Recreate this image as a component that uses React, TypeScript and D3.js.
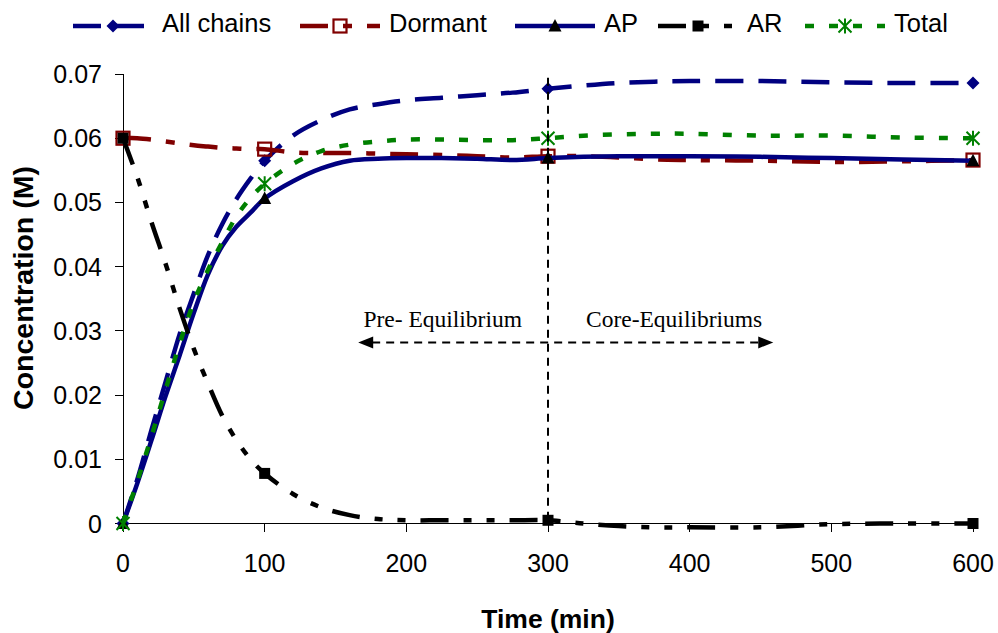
import React from "react";
import * as d3 from "d3";

// Sampling times (min) shared by every series
const timeMin = [0, 10, 20, 30, 40, 50, 60, 70, 80, 90, 100, 120, 140, 160, 180, 200, 225, 250, 275, 300, 325, 350, 375, 400, 450, 500, 550, 600];

// Concentrations (M)
const allChains = [0, 0.0068, 0.0145, 0.022, 0.0295, 0.0358, 0.0418, 0.0466, 0.0505, 0.0537, 0.0565, 0.0604, 0.0628, 0.0645, 0.0653, 0.0659, 0.0663, 0.0667, 0.0671, 0.0677, 0.0682, 0.0686, 0.0688, 0.0689, 0.0689, 0.0687, 0.0686, 0.0686];
const dormant = [0.06, 0.06, 0.0598, 0.0595, 0.0592, 0.0589, 0.0587, 0.0585, 0.0584, 0.0583, 0.0583, 0.0578, 0.0577, 0.0577, 0.0576, 0.0575, 0.0574, 0.0572, 0.057, 0.0572, 0.0572, 0.057, 0.0567, 0.0566, 0.0565, 0.0563, 0.0564, 0.0566];
const ap = [0, 0.0062, 0.0129, 0.0198, 0.0262, 0.0328, 0.0388, 0.0432, 0.0462, 0.0484, 0.0506, 0.0533, 0.0553, 0.0565, 0.0568, 0.0569, 0.0569, 0.0568, 0.0566, 0.0569, 0.0571, 0.0572, 0.0572, 0.0572, 0.0571, 0.0569, 0.0567, 0.0565];
const ar = [0.06, 0.054, 0.047, 0.0405, 0.0335, 0.0272, 0.0218, 0.0168, 0.013, 0.01, 0.0078, 0.0046, 0.0025, 0.0013, 0.0007, 0.0005, 0.0005, 0.0005, 0.0005, 0.0005, 0.0, -0.0004, -0.0006, -0.0006, -0.0006, -0.0001, 0.0, 0.0];
const total = [0, 0.0065, 0.0135, 0.0208, 0.028, 0.0345, 0.0395, 0.0438, 0.0478, 0.0507, 0.0529, 0.056, 0.058, 0.059, 0.0595, 0.0598, 0.0598, 0.0597, 0.0597, 0.06, 0.0604, 0.0606, 0.0607, 0.0607, 0.0604, 0.0604, 0.0601, 0.06];

// Times at which the series carry markers
const markerTimes = [0, 100, 300, 600];

const seriesNames = ["All chains", "Dormant", "AP", "AR", "Total"];
const seriesValues = [allChains, dormant, ap, ar, total];

const xTicks = [0, 100, 200, 300, 400, 500, 600];
const yTicks = [0, 0.01, 0.02, 0.03, 0.04, 0.05, 0.06, 0.07];

// Phase annotation
const boundaryTime = 300;
const arrowRange = [166, 459];
const arrowLevel = 0.0282;
const preLabel = "Pre- Equilibrium";
const coreLabel = "Core-Equilibriums";

type Style = {
  color: string;
  dash: string;
  marker: "diamond" | "openSquare" | "triangle" | "square" | "asterisk";
};

const styles: Style[] = [
  { color: "#000080", dash: "28,15", marker: "diamond" },
  { color: "#800000", dash: "28,15,9,15", marker: "openSquare" },
  { color: "#000080", dash: "", marker: "triangle" },
  { color: "#000000", dash: "28,15,8,15,8,15", marker: "square" },
  { color: "#008000", dash: "9,15", marker: "asterisk" },
];

const SANS = "'Liberation Sans', Arial, sans-serif";
const SERIF = "'Liberation Serif', 'Times New Roman', serif";

function Marker({ kind, cx, cy, color }: { kind: Style["marker"]; cx: number; cy: number; color: string }) {
  const t = `translate(${cx},${cy})`;
  switch (kind) {
    case "diamond":
      return <path transform={t} d="M0,-6.5L6.5,0L0,6.5L-6.5,0Z" fill={color} />;
    case "openSquare":
      return <rect transform={t} x={-6.5} y={-6.5} width={13} height={13} fill="none" stroke={color} strokeWidth={2.2} />;
    case "triangle":
      return <path transform={t} d="M0,-7L6.5,5.5L-6.5,5.5Z" fill="#000" />;
    case "square":
      return <rect transform={t} x={-5.5} y={-5.5} width={11} height={11} fill="#000" />;
    case "asterisk":
      return (
        <path
          transform={t}
          d="M-6.5,-6.5L6.5,6.5M-6.5,6.5L6.5,-6.5M0,-7.5L0,7.5"
          stroke={color}
          strokeWidth={2}
          fill="none"
        />
      );
  }
}

export default function App() {
  const W = 998;
  const H = 633;
  const x = d3.scaleLinear().domain([0, 600]).range([123, 973]);
  const y = d3.scaleLinear().domain([0, 0.07]).range([523.5, 74]);

  const line = d3
    .line<number>()
    .x((_, i) => x(timeMin[i]))
    .y((d) => y(d))
    .curve(d3.curveCatmullRom.alpha(0.5));

  // Legend layout
  const legendX = [73, 300, 515, 658, 805];
  const keyLen = 80;
  const legendY = 26;

  const ay = y(arrowLevel);
  const ax0 = x(arrowRange[0]);
  const ax1 = x(arrowRange[1]);
  const bx = x(boundaryTime);

  return (
    <svg
      width={W}
      height={H}
      viewBox={`0 0 ${W} ${H}`}
      style={{ position: "absolute", left: 0, top: 0, background: "#fff" }}
    >
      <rect width={W} height={H} fill="#fff" />

      {/* Axes */}
      <g stroke="#000" strokeWidth={1} shapeRendering="crispEdges">
        <line x1={x(0)} x2={x(0)} y1={y(0.07)} y2={y(0)} />
        <line x1={x(0)} x2={x(600)} y1={y(0)} y2={y(0)} />
        {yTicks.map((v) => (
          <line key={"yt" + v} x1={x(0) - 8} x2={x(0)} y1={y(v)} y2={y(v)} />
        ))}
        {xTicks.map((t) => (
          <line key={"xt" + t} x1={x(t)} x2={x(t)} y1={y(0)} y2={y(0) + 8} />
        ))}
      </g>
      <g fontFamily={SANS} fontSize={25} fill="#000">
        {yTicks.map((v) => (
          <text key={"yl" + v} x={102} y={y(v) + 9} textAnchor="end">
            {v === 0 ? "0" : v.toFixed(2)}
          </text>
        ))}
        {xTicks.map((t) => (
          <text key={"xl" + t} x={x(t)} y={572} textAnchor="middle">
            {t}
          </text>
        ))}
      </g>
      <text x={x(300)} y={628} textAnchor="middle" fontFamily={SANS} fontWeight="bold" fontSize={26.5}>
        Time (min)
      </text>
      <text
        transform={`translate(33,288) rotate(-90)`}
        textAnchor="middle"
        fontFamily={SANS}
        fontWeight="bold"
        fontSize={28.5}
      >
        Concentration (M)
      </text>

      {/* Series */}
      {seriesValues.map((vals, si) => {
        const st = styles[si];
        return (
          <g key={seriesNames[si]}>
            <path
              d={line(vals) || ""}
              fill="none"
              stroke={st.color}
              strokeWidth={4.5}
              strokeDasharray={st.dash || undefined}
            />
            {markerTimes.map((mt) => {
              const i = timeMin.indexOf(mt);
              return <Marker key={mt} kind={st.marker} cx={x(mt)} cy={y(vals[i])} color={st.color} />;
            })}
          </g>
        );
      })}

      {/* Phase annotation */}
      <g stroke="#000" strokeWidth={2} strokeDasharray="8,6" fill="none">
        <line x1={bx} x2={bx} y1={y(0.0694)} y2={y(0)} />
        <line x1={ax0 + 14} x2={ax1 - 14} y1={ay} y2={ay} />
      </g>
      <path d={`M${ax0},${ay}L${ax0 + 15},${ay - 6}L${ax0 + 15},${ay + 6}Z`} fill="#000" />
      <path d={`M${ax1},${ay}L${ax1 - 15},${ay - 6}L${ax1 - 15},${ay + 6}Z`} fill="#000" />
      <g fontFamily={SERIF} fontSize={23.5} fill="#000">
        <text x={bx - 26} y={327} textAnchor="end">
          {preLabel}
        </text>
        <text x={bx + 38} y={327}>
          {coreLabel}
        </text>
      </g>

      {/* Legend */}
      <g>
        {seriesNames.map((name, si) => {
          const st = styles[si];
          const lx = legendX[si];
          return (
            <g key={"lg" + name}>
              <line
                x1={lx}
                x2={lx + keyLen}
                y1={legendY}
                y2={legendY}
                stroke={st.color}
                strokeWidth={4.5}
                strokeDasharray={st.dash || undefined}
              />
              <Marker kind={st.marker} cx={lx + keyLen / 2} cy={legendY} color={st.color} />
              <text x={lx + 89} y={legendY + 6} fontFamily={SANS} fontSize={25.5} fill="#000">
                {name}
              </text>
            </g>
          );
        })}
      </g>
    </svg>
  );
}
